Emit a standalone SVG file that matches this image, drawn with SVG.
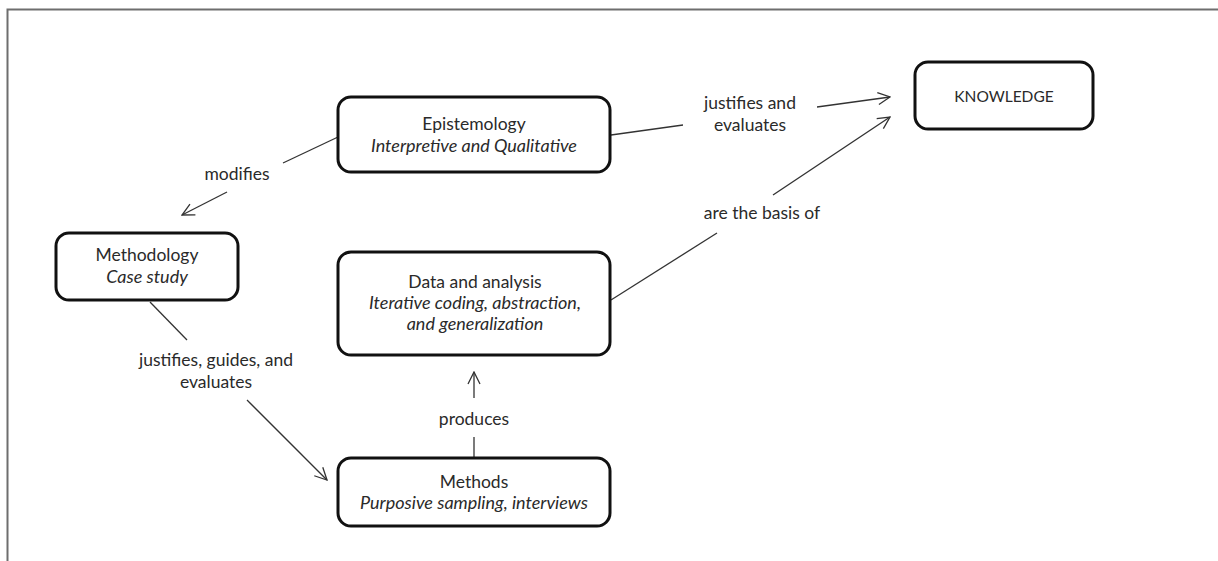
<svg xmlns="http://www.w3.org/2000/svg" width="1218" height="561" viewBox="0 0 1218 561">
  <defs>
    <style>
      .box { fill: #ffffff; stroke: #111111; stroke-width: 3; }
      .edge { fill: none; stroke: #333333; stroke-width: 1.3; }
      .frame { fill: none; stroke: #6e6e6e; stroke-width: 2; }
      text { font-family: Lato, "Open Sans", "Liberation Sans", sans-serif; font-size: 17.5px; fill: #2a2a2a; text-anchor: middle; }
      .it { font-style: italic; font-size: 18px; }
      .caps { font-size: 15.5px; }
    </style>
    <marker id="arrow" viewBox="0 0 14 14" refX="13" refY="7" markerWidth="14" markerHeight="14" markerUnits="userSpaceOnUse" orient="auto">
      <path d="M1,1 L13,7 L1,13" fill="none" stroke="#333333" stroke-width="1.3"/>
    </marker>
  </defs>

  <rect width="1218" height="561" fill="#ffffff"/>
  <path class="frame" d="M1218,9.5 L7.5,9.5 L7.5,561"/>

  <g id="connectors">
    <!-- Epistemology -> Methodology -->
    <line class="edge" x1="338" y1="137" x2="283" y2="163"/>
    <line class="edge" x1="227" y1="192" x2="182" y2="215" marker-end="url(#arrow)"/>
    <text x="237" y="180">modifies</text>
    <!-- Methodology -> Methods -->
    <line class="edge" x1="150" y1="302" x2="187" y2="340"/>
    <line class="edge" x1="247" y1="400" x2="327" y2="480" marker-end="url(#arrow)"/>
    <text x="216" y="366">justifies, guides, and</text>
    <text x="216" y="388">evaluates</text>
    <!-- Epistemology -> Knowledge -->
    <line class="edge" x1="611" y1="135" x2="683" y2="125"/>
    <line class="edge" x1="817" y1="107" x2="890" y2="97" marker-end="url(#arrow)"/>
    <text x="750" y="109">justifies and</text>
    <text x="750" y="131">evaluates</text>
    <!-- Data -> Knowledge -->
    <line class="edge" x1="611" y1="300" x2="717" y2="233"/>
    <line class="edge" x1="773" y1="195" x2="890" y2="117" marker-end="url(#arrow)"/>
    <text x="762" y="219">are the basis of</text>
    <!-- Methods -> Data -->
    <line class="edge" x1="474" y1="458" x2="474" y2="437"/>
    <line class="edge" x1="474" y1="398" x2="474" y2="372" marker-end="url(#arrow)"/>
    <text x="474" y="425">produces</text>
  </g>

  <g id="epistemology">
    <rect class="box" x="338" y="97" width="272" height="75" rx="13"/>
    <text x="474" y="130">Epistemology</text>
    <text class="it" x="474" y="152">Interpretive  and Qualitative</text>
  </g>

  <g id="knowledge">
    <rect class="box" x="915" y="62" width="178" height="67" rx="13"/>
    <text class="caps" x="1004" y="102">KNOWLEDGE</text>
  </g>

  <g id="methodology">
    <rect class="box" x="56" y="233" width="182" height="67" rx="13"/>
    <text x="147" y="261">Methodology</text>
    <text class="it" x="147" y="283">Case study</text>
  </g>

  <g id="data-analysis">
    <rect class="box" x="338" y="252" width="272" height="103" rx="13"/>
    <text x="475" y="288">Data and analysis</text>
    <text class="it" x="475" y="309">Iterative  coding, abstraction,</text>
    <text class="it" x="475" y="330">and generalization</text>
  </g>

  <g id="methods">
    <rect class="box" x="338" y="458" width="272" height="68" rx="13"/>
    <text x="474" y="488">Methods</text>
    <text class="it" x="474" y="509">Purposive sampling,  interviews</text>
  </g>
</svg>
